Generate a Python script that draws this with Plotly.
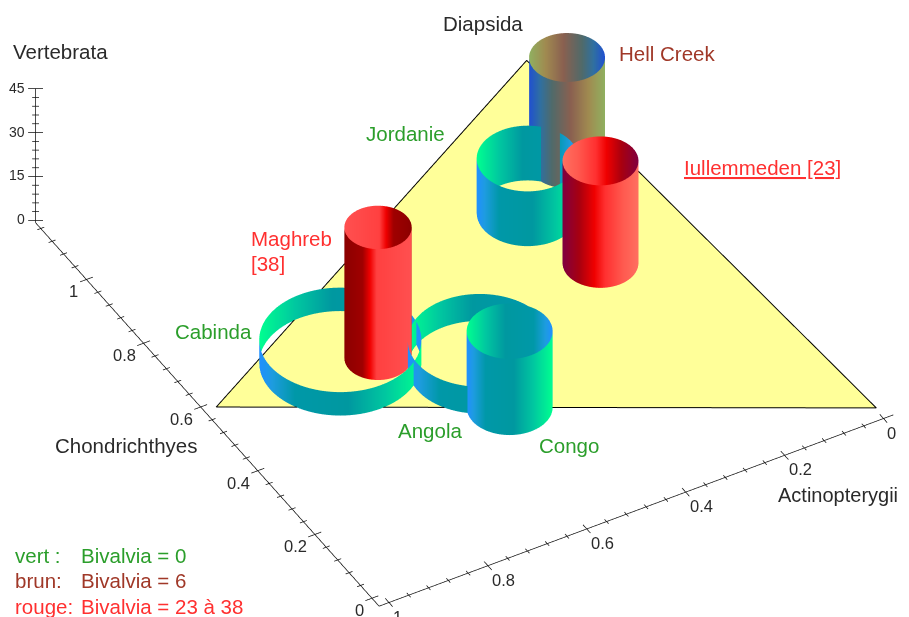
import numpy as np
import plotly.graph_objects as go

# sites: name, Actinopterygii, Chondrichthyes, radius (same unit), Vertebrata, palette
SITE_NAMES = ['Hell Creek', 'Jordanie', 'Iullemmeden', 'Maghreb', 'Cabinda', 'Angola', 'Congo']
SITE_ACT = [0.137, 0.264, 0.2216, 0.688, 0.752, 0.546, 0.555]
SITE_CHOND = [0.846, 0.764, 0.5823, 0.5537, 0.575, 0.4437, 0.3231]
SITE_RADIUS = [0.0665, 0.0893, 0.0665, 0.059, 0.142, 0.126, 0.0753]
SITE_VERT = [36.3, 18.7, 35, 44.7, 8, 9.2, 26]
SITE_PALETTE = ['brun', 'vert', 'rouge1', 'rouge2', 'vert', 'vert', 'vert']

PALETTES = {
    'vert': [[0, '#2090ff'], [0.08, '#1e9ce0'], [0.22, '#0098a8'], [0.55, '#0098a0'], [0.78, '#00c8a0'], [1, '#00ff90']],
    'brun': [[0, '#2050d0'], [0.15, '#3070a0'], [0.3, '#506a6a'], [0.55, '#8a6050'], [0.78, '#a08a50'], [1, '#90b060']],
    'rouge1': [[0, '#800040'], [0.22, '#a80010'], [0.42, '#f00000'], [0.56, '#ff3030'], [0.8, '#ff5a50'], [1, '#ff7060']],
    'rouge2': [[0, '#8b0000'], [0.27, '#a00000'], [0.38, '#f00000'], [0.48, '#ff4040'], [1, '#ff5050']],
}

TRI_ACT = [0, 1, 0.058]
TRI_CHOND = [0, 0.58, 1.124]

# where the axis lines run
ACT_AXIS = [-0.02, 1.02]
CHOND_AXIS = [-0.025, 1.178]
VERT_AXIS = [-0.8, 45.2]
# scene ranges are a bit wider so nothing gets clipped on the box
ACT_RANGE = [1.05, -0.05]
CHOND_RANGE = [-0.055, 1.208]
VERT_RANGE = [-2.8, 47.2]
ACT_TICKS = [0, 0.2, 0.4, 0.6, 0.8, 1]
CHOND_TICKS = [0, 0.2, 0.4, 0.6, 0.8, 1]
VERT_TICKS = [0, 15, 30, 45]

GREEN = '#2b9e2b'
BROWN = '#a03828'
RED = '#ff3030'
INK = '#2a2a2a'
FONT = 'Liberation Sans'

# view: azimuth 60 deg, elevation 40 deg
BETA, THETA = np.radians(60), np.radians(40)
RIGHT = np.array([np.sin(BETA), -np.cos(BETA)])
TOWARD = np.array([-np.cos(BETA), -np.sin(BETA)])

fig = go.Figure()


def add_wall(a0, c0, radius, height, colors, side):
    ang = np.linspace(np.pi, 0, 49)
    h = np.array([0, height])
    # plotted x runs along 1-act, so the screen basis is flipped on that axis
    xs = a0 - radius * (np.cos(ang) * RIGHT[0] + side * np.sin(ang) * TOWARD[0])
    ys = c0 + radius * (np.cos(ang) * RIGHT[1] + side * np.sin(ang) * TOWARD[1])
    t = (1 + np.cos(ang)) / 2
    if side < 0:
        t = 1 - t
    fig.add_trace(go.Surface(
        x=np.tile(xs, (2, 1)), y=np.tile(ys, (2, 1)), z=np.outer(h, np.ones_like(xs)),
        surfacecolor=np.tile(t, (2, 1)), colorscale=colors, cmin=0, cmax=1, showscale=False,
        lighting=dict(ambient=1, diffuse=0, specular=0, fresnel=0, roughness=1),
        hoverinfo='skip'))


def segments(points):
    xs, ys, zs = [], [], []
    for p, q in points:
        xs += [p[0], q[0], None]
        ys += [p[1], q[1], None]
        zs += [p[2], q[2], None]
    return xs, ys, zs


# triangle
fig.add_trace(go.Mesh3d(x=TRI_ACT, y=TRI_CHOND, z=[0, 0, 0], i=[0], j=[1], k=[2], color='#ffff99',
                        lighting=dict(ambient=1, diffuse=0, specular=0, fresnel=0), hoverinfo='skip'))
fig.add_trace(go.Scatter3d(x=TRI_ACT + TRI_ACT[:1], y=TRI_CHOND + TRI_CHOND[:1], z=[0.1, 0.1, 0.1, 0.1], mode='lines',
                           line=dict(color='black', width=2), hoverinfo='skip'))

for a, c, r, v, pal in zip(SITE_ACT, SITE_CHOND, SITE_RADIUS, SITE_VERT, SITE_PALETTE):
    add_wall(a, c, r, v, PALETTES[pal], 1)
    add_wall(a, c, r, v, PALETTES[pal], -1)

# axes with crossing ticks
a_lo, a_hi = ACT_AXIS
c_lo, c_hi = CHOND_AXIS
z_lo, z_hi = VERT_AXIS
segs = [((a_lo, c_lo, z_lo), (a_hi, c_lo, z_lo)),
        ((a_hi, c_lo, z_lo), (a_hi, c_hi, z_lo)),
        ((a_hi, c_hi, z_lo), (a_hi, c_hi, z_hi))]
for a in np.arange(0, 1.01, 0.04):
    half = 0.013 if round(a * 25) % 5 == 0 else 0.007
    segs.append(((a, c_lo - half, z_lo), (a, c_lo + half, z_lo)))
for c in np.arange(0, 1.17, 0.04):
    half = 0.013 if round(c * 25) % 5 == 0 else 0.007
    segs.append(((a_hi - half, c, z_lo), (a_hi + half, c, z_lo)))
for v in np.arange(0, 46, 3):
    half = 0.013 if v % 15 == 0 else 0.006
    segs.append(((a_hi - half * RIGHT[0], c_hi + half * RIGHT[1], v), (a_hi + half * RIGHT[0], c_hi - half * RIGHT[1], v)))
sx, sy, sz = segments(segs)
fig.add_trace(go.Scatter3d(x=sx, y=sy, z=sz, mode='lines', line=dict(color='#111111', width=1.5), hoverinfo='skip'))

# tick labels hang off the axes
tick_font = dict(family=FONT, size=16.5, color=INK)
scene_notes = []
for a in ACT_TICKS:
    scene_notes.append(dict(x=a, y=c_lo, z=z_lo, text=str(a), showarrow=False, font=tick_font,
                            xanchor='left', yanchor='middle', xshift=2, yshift=-14))
for c in CHOND_TICKS:
    scene_notes.append(dict(x=a_hi, y=c, z=z_lo, text=str(c), showarrow=False, font=tick_font,
                            xanchor='right', yanchor='middle', xshift=-6, yshift=-12))
for v in VERT_TICKS:
    scene_notes.append(dict(x=a_hi, y=c_hi, z=v, text=str(v), showarrow=False, font=dict(family=FONT, size=14, color=INK),
                            xanchor='right', yanchor='middle', xshift=-9, yshift=1))


def label(text, px, py, color, size=20.5):
    # the page body has an 8 px margin, so the paper starts there
    fig.add_annotation(text=text, x=(px - 10) / 909, y=1 - (py - 8) / 617, xref='paper', yref='paper',
                       xanchor='left', yanchor='middle', showarrow=False,
                       font=dict(family=FONT, size=size, color=color))


label('Vertebrata', 13, 51, INK)
label('Diapsida', 443, 24, INK)
label('Chondrichthyes', 55, 445, INK)
label('Actinopterygii', 778, 495, INK, size=20)
label('Hell Creek', 619, 54, BROWN)
label('Jordanie', 366, 134, GREEN)
label('<u>Iullemmeden [23]</u>', 684, 167, RED)
label('Maghreb', 251, 238, RED)
label('[38]', 251, 263, RED)
label('Cabinda', 175, 332, GREEN)
label('Angola', 398, 430, GREEN)
label('Congo', 539, 445, GREEN)
label('vert :', 15, 555, GREEN)
label('Bivalvia = 0', 81, 555, GREEN)
label('brun:', 15, 580, BROWN)
label('Bivalvia = 6', 81, 580, BROWN)
label('rouge:', 15, 606, RED)
label('Bivalvia = 23 à 38', 81, 606, RED)

hidden = dict(visible=False, showgrid=False, zeroline=False, showline=False, showbackground=False, showspikes=False)
fig.update_layout(
    width=909, height=617, margin=dict(l=0, r=0, t=0, b=0), paper_bgcolor='white', showlegend=False,
    scene=dict(
        domain=dict(x=[0, 1], y=[0, 1]),
        xaxis=dict(range=ACT_RANGE, **hidden),
        yaxis=dict(range=CHOND_RANGE, **hidden),
        zaxis=dict(range=VERT_RANGE, **hidden),
        aspectmode='manual', aspectratio=dict(x=2.036, y=2.338, z=0.6207),
        camera=dict(projection=dict(type='orthographic'), up=dict(x=0, y=0, z=1),
                    center=dict(x=-0.0735, y=-0.1144, z=-0.1613),
                    eye=dict(x=-1.6029, y=-2.7636, z=2.4167)),
        annotations=scene_notes,
    ),
)

fig.write_html("out.html")
